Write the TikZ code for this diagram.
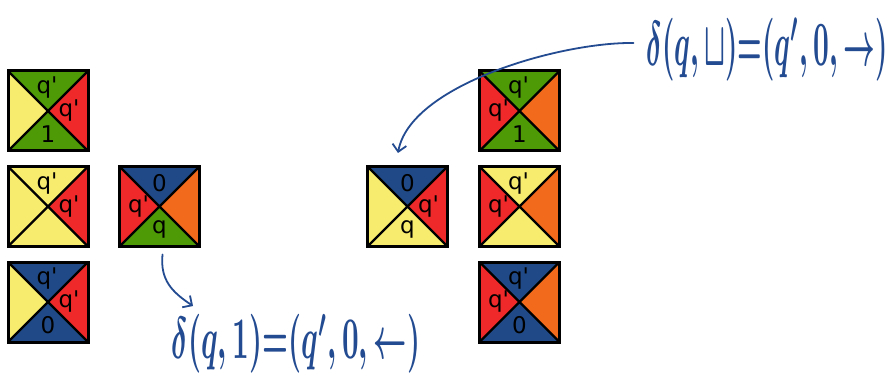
\documentclass[tikz,border=0pt]{standalone}
\usepackage{fontspec}
\setmainfont{DejaVu Sans}
\usetikzlibrary{arrows.meta,calc}
\definecolor{ty}{HTML}{F8EC6E}
\definecolor{tg}{HTML}{4E9A06}
\definecolor{tr}{HTML}{EF2929}
\definecolor{tb}{HTML}{204A87}
\definecolor{to}{HTML}{F26A1B}
\definecolor{hand}{RGB}{35,75,145}
\tikzset{
  tilebox/.style={rectangle,minimum width=80pt,minimum height=80pt,inner sep=0pt,outer sep=0pt},
  lbl/.style={font=\fontsize{23}{23}\selectfont,inner sep=0pt,text=black},
  formula/.style={text=hand,inner sep=0pt},
  handline/.style={draw=hand,line width=1.8pt,line cap=round},
}
\newcommand\qp{q\textquotesingle}
\newcommand\tile[6]{%
  \node[tilebox] (#1) at #2 {};
  \fill[#3] (#1.north west) -- (#1.north east) -- (#1.center) -- cycle;
  \fill[#4] (#1.north east) -- (#1.south east) -- (#1.center) -- cycle;
  \fill[#5] (#1.south east) -- (#1.south west) -- (#1.center) -- cycle;
  \fill[#6] (#1.south west) -- (#1.north west) -- (#1.center) -- cycle;
  \draw[line width=2.2pt] (#1.north west) -- (#1.south east) (#1.north east) -- (#1.south west);
  \draw[line width=3pt] (#1.north west) rectangle (#1.south east);
}
\newcommand\tlab[3]{% tile, offset, text
  \node[lbl] at ($(#1.center)+#2$) {#3};
}
\begin{document}
\begin{tikzpicture}[x=1pt,y=-1pt]
\useasboundingbox[fill=white] (0,0) rectangle (896,379);
% left column
\tile{A1}{(48,111)}{tg}{tr}{tg}{ty}
\tlab{A1}{(-1,-23)}{\qp}\tlab{A1}{(21,0)}{\qp}\tlab{A1}{(0,23)}{1}
\tile{A2}{(48,206.5)}{ty}{tr}{ty}{ty}
\tlab{A2}{(-1,-23)}{\qp}\tlab{A2}{(21,0)}{\qp}
\tile{A3}{(48,302)}{tb}{tr}{tb}{ty}
\tlab{A3}{(-1,-23)}{\qp}\tlab{A3}{(21,0)}{\qp}\tlab{A3}{(0,23)}{0}
% middle tile
\tile{M}{(159.5,206.5)}{tb}{to}{tg}{tr}
\tlab{M}{(0,-23)}{0}\tlab{M}{(-21,0)}{\qp}\tlab{M}{(0,23)}{q}
% single right tile
\tile{S}{(407.5,206.5)}{tb}{tr}{ty}{ty}
\tlab{S}{(0,-23)}{0}\tlab{S}{(21,0)}{\qp}\tlab{S}{(0,23)}{q}
% right column
\tile{B1}{(519.5,111)}{tg}{to}{tg}{tr}
\tlab{B1}{(-1,-23)}{\qp}\tlab{B1}{(-21,0)}{\qp}\tlab{B1}{(0,23)}{1}
\tile{B2}{(519.5,206.5)}{ty}{to}{ty}{tr}
\tlab{B2}{(-1,-23)}{\qp}\tlab{B2}{(-21,0)}{\qp}
\tile{B3}{(519.5,302)}{tb}{to}{tb}{tr}
\tlab{B3}{(-1,-23)}{\qp}\tlab{B3}{(-21,0)}{\qp}\tlab{B3}{(0,23)}{0}
% annotations
\node[formula] (f1) at (296,344) {\scalebox{2.9}[5.9]{\boldmath$\delta(q,1){=}(q',0,\leftarrow)$}};
\node[formula] (f2) at (767,50) {\scalebox{2.75}[6.3]{\boldmath$\delta(q,\sqcup){=}(q',0,\rightarrow)$}};
\coordinate (e2) at (398,153);
\coordinate (e1) at (193,306);
\draw[handline,-{Straight Barb[length=7pt,width=14pt]}]
  ([xshift=-13pt,yshift=7pt]f2.west) .. controls (560,42) and (410,85) .. (e2);
\draw[handline,-{Straight Barb[length=7pt,width=14pt]}]
  ([xshift=3pt,yshift=-8pt]M.south) .. controls (160,280) and (172,292) .. (e1);
\end{tikzpicture}
\end{document}
